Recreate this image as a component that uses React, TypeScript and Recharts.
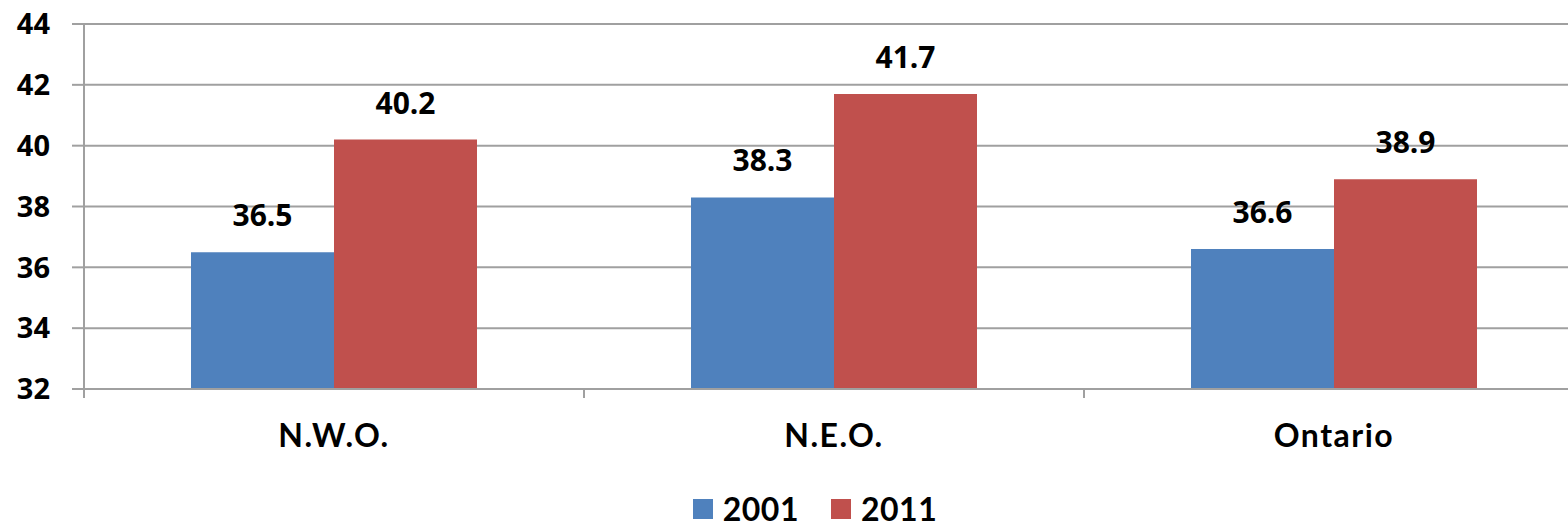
import React from 'react'
import { BarChart, Bar, XAxis, YAxis, CartesianGrid, Legend, LabelList } from 'recharts'

const regions = ['N.W.O.', 'N.E.O.', 'Ontario']
const values2001 = [36.5, 38.3, 36.6]
const values2011 = [40.2, 41.7, 38.9]
const yTicks = [32, 34, 36, 38, 40, 42, 44]

const data = regions.map((region, i) => ({
    region,
    y2001: values2001[i],
    y2011: values2011[i]
}))

const colors = {
    blue: '#4f81bd',
    red: '#c0504d',
    grid: '#a0a0a0',
    text: '#000000'
}

const CategoryTick = (props: any) => {
    const { x, y, payload, width, visibleTicksCount } = props
    const half = width && visibleTicksCount ? width / visibleTicksCount / 2 : 250
    return (
        <g>
            <line x1={x - half} y1={y} x2={x - half} y2={y + 9} stroke={colors.grid} strokeWidth={2} />
            <text
                x={x}
                y={y + 58}
                textAnchor="middle"
                fill={colors.text}
                style={{ fontFamily: 'Lato', fontWeight: 700, fontSize: 32, letterSpacing: 1.5 }}
            >
                {payload.value}
            </text>
        </g>
    )
}

const LegendContent = () => (
    <div
        style={{
            display: 'flex',
            justifyContent: 'center',
            alignItems: 'center',
            paddingLeft: 46,
            fontFamily: 'Lato',
            fontWeight: 700,
            fontSize: 32,
            letterSpacing: 0.5,
            color: colors.text,
            lineHeight: '40px'
        }}
    >
        {[
            { label: '2001', color: colors.blue },
            { label: '2011', color: colors.red }
        ].map((item) => (
            <div key={item.label} style={{ display: 'flex', alignItems: 'center', margin: '0 16px' }}>
                <span style={{ width: 20, height: 20, background: item.color, marginRight: 10, display: 'inline-block' }} />
                <span>{item.label}</span>
            </div>
        ))}
    </div>
)

export default function App() {
    return (
        <div style={{ position: 'absolute', left: 0, top: 0, width: 1568, height: 529, overflow: 'hidden', background: '#fff' }}>
            <BarChart
                width={1600}
                height={529}
                data={data}
                margin={{ top: 24, right: 16, left: 0, bottom: 0 }}
                barCategoryGap="21.4%"
                barGap={0}
            >
                <CartesianGrid vertical={false} stroke={colors.grid} strokeWidth={2} />
                <XAxis
                    dataKey="region"
                    height={100}
                    axisLine={{ stroke: colors.grid, strokeWidth: 2 }}
                    tickLine={false}
                    tickSize={0}
                    tickMargin={0}
                    tick={<CategoryTick />}
                    interval={0}
                />
                <YAxis
                    width={84}
                    domain={[32, 44]}
                    ticks={yTicks}
                    interval={0}
                    axisLine={{ stroke: colors.grid, strokeWidth: 2 }}
                    tickLine={{ stroke: colors.grid, strokeWidth: 2 }}
                    tickSize={12}
                    tickMargin={22}
                    tick={{ fill: colors.text, fontFamily: 'Open Sans', fontWeight: 700, fontSize: 29 }}
                />
                <Legend verticalAlign="bottom" height={40} content={<LegendContent />} />
                <Bar dataKey="y2001" name="2001" fill={colors.blue} isAnimationActive={false}>
                    <LabelList
                        dataKey="y2001"
                        position="top"
                        offset={26}
                        fill={colors.text}
                        style={{ fontFamily: 'Open Sans', fontWeight: 700, fontSize: 30 }}
                    />
                </Bar>
                <Bar dataKey="y2011" name="2011" fill={colors.red} isAnimationActive={false}>
                    <LabelList
                        dataKey="y2011"
                        position="top"
                        offset={26}
                        fill={colors.text}
                        style={{ fontFamily: 'Open Sans', fontWeight: 700, fontSize: 30 }}
                    />
                </Bar>
            </BarChart>
        </div>
    )
}
